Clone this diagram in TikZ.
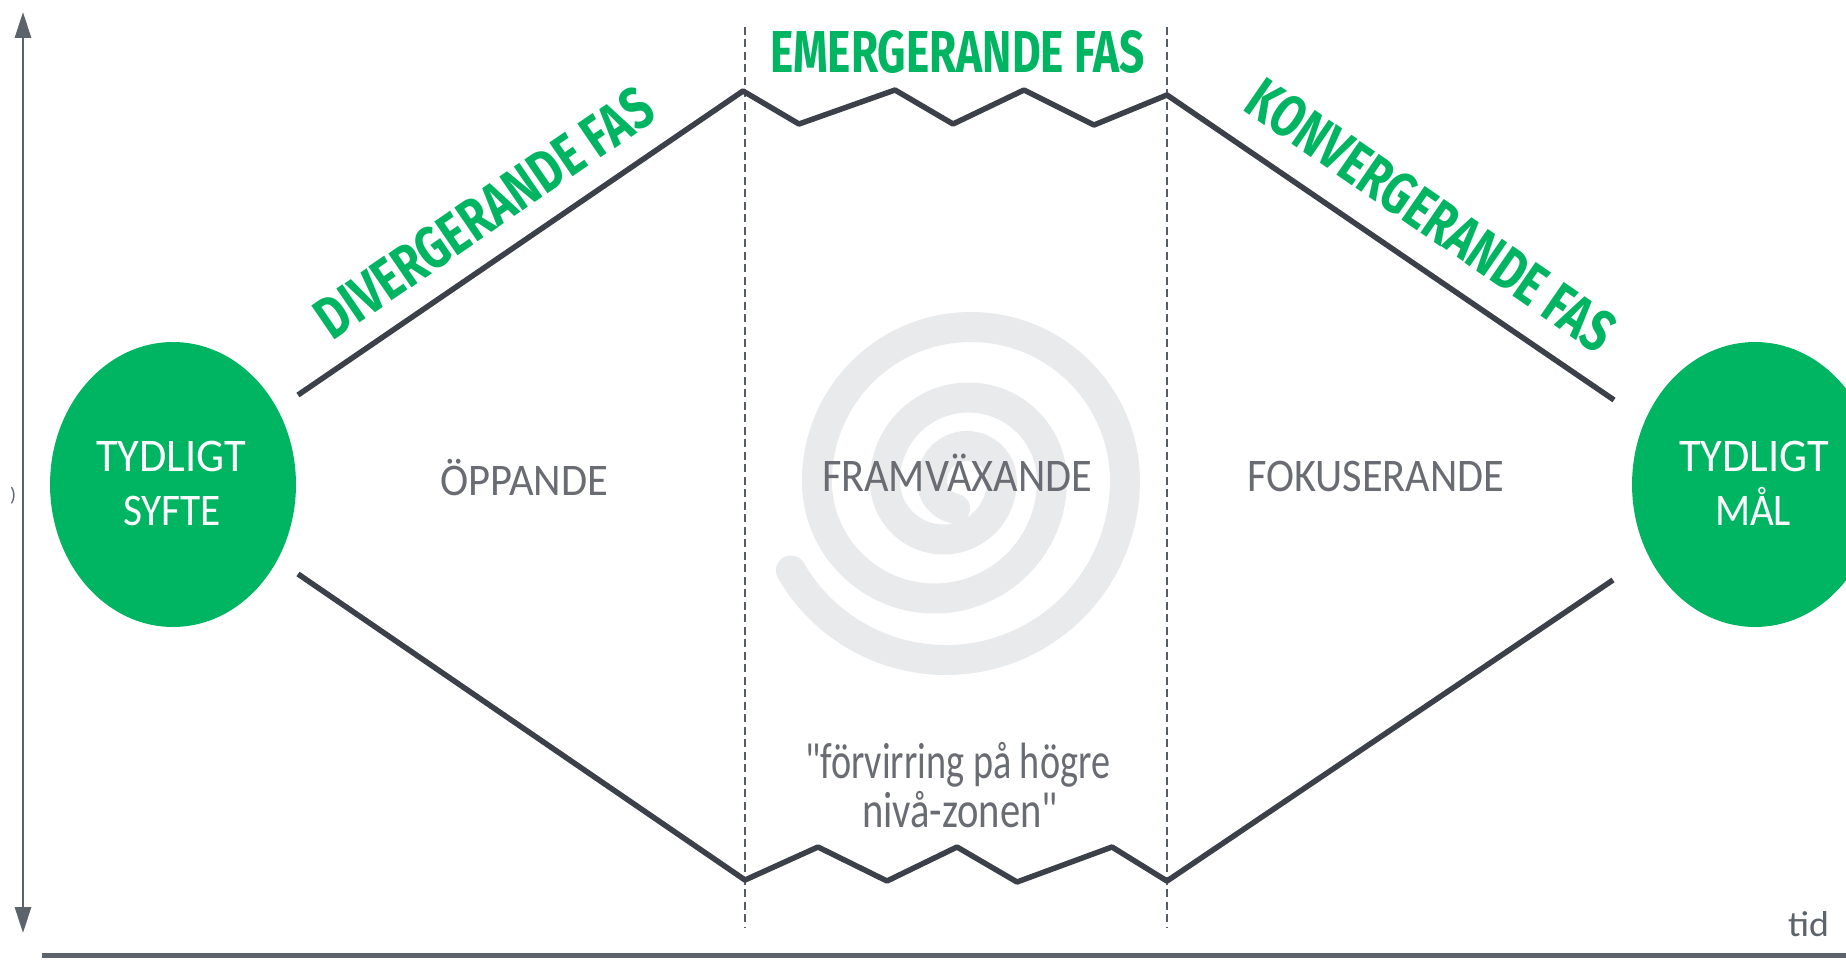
\documentclass[tikz,border=0pt]{standalone}
\usepackage{fontspec}
\usepackage{graphicx}
\setmainfont{Carlito}[Ligatures=TeXOff]
\newfontfamily\greenfont{Fira Sans}
\usetikzlibrary{arrows.meta,shapes.geometric}
\definecolor{fasgreen}{RGB}{0,181,98}
\definecolor{linegray}{RGB}{60,65,73}
\definecolor{axisgray}{RGB}{93,99,107}
\definecolor{dashgray}{RGB}{85,92,102}
\definecolor{labelgray}{RGB}{105,108,114}
\definecolor{spiralgray}{RGB}{233,234,236}
\newcommand{\fitcap}[3]{\resizebox{#1}{#2}{\smash{#3}\vphantom{T}}}
\newcommand{\fitasc}[3]{\resizebox{#1}{#2}{\smash{#3}\vphantom{f}}}
\begin{document}
\begin{tikzpicture}[x=0.02cm,y=-0.02cm,
  phase/.style={inner sep=0pt, text=labelgray},
  fas/.style={inner sep=0pt, text=fasgreen, font=\greenfont\bfseries},
  goal/.style={ellipse, fill=fasgreen, draw=none, minimum width=4.92cm, minimum height=5.7cm, inner sep=0pt},
  goaltext/.style={inner sep=0pt, text=white},
  pathline/.style={line width=0.11cm, draw=linegray, line join=round},
  phaseline/.style={draw=dashgray, line width=0.04cm, dash pattern=on 0.16cm off 0.09cm},
  axisline/.style={draw=axisgray, line width=0.06cm},
  spiralline/.style={draw=spiralgray, line width=0.6cm, line cap=round}
]
\clip (0,0) rectangle (1846,966);
\fill[white] (0,0) rectangle (1846,966);

% spiral in the background
\draw[spiralline] (790.9,570.5) arc[start angle=150,end angle=0,radius=179]
  arc[start angle=0,end angle=-180,radius=154]
  arc[start angle=180,end angle=0,radius=117.5]
  arc[start angle=0,end angle=-180,radius=83.5]
  arc[start angle=180,end angle=0,radius=58.5]
  arc[start angle=0,end angle=-180,radius=35]
  arc[start angle=180,end angle=100,radius=28];

% phase borders
\coordinate (d1top) at (745,27);
\coordinate (d1bot) at (745,928);
\coordinate (d2top) at (1167,27);
\coordinate (d2bot) at (1167,928);
\draw[phaseline] (d1top) -- (d1bot);
\draw[phaseline] (d2top) -- (d2bot);

% axes
\coordinate (ytop) at (23,12);
\coordinate (ybot) at (23,933);
\draw[axisline, {Triangle[length=0.52cm,width=0.32cm]}-{Triangle[length=0.52cm,width=0.32cm]}] (ybot) -- (ytop);
\coordinate (xl) at (42,955);
\coordinate (xr) at (1846,955);
\draw[draw=axisgray, line width=0.1cm] (xl) -- (xr);

% goals
\node[goal] (syfte) at (173,484.5) {};
\node[goal] (mal) at (1755,484.5) {};

% upper outline
\coordinate (u0) at (298,395);
\coordinate (u1) at (743,91);
\coordinate (u2) at (799,124);
\coordinate (u3) at (895,90);
\coordinate (u4) at (953,124);
\coordinate (u5) at (1024,90);
\coordinate (u6) at (1094,125);
\coordinate (u7) at (1167,95);
\coordinate (u8) at (1614,400);
\draw[pathline] (u0) -- (u1) -- (u2) -- (u3) -- (u4) -- (u5) -- (u6) -- (u7) -- (u8);

% lower outline
\coordinate (l0) at (298,574);
\coordinate (l1) at (745,880);
\coordinate (l2) at (818,847);
\coordinate (l3) at (887,881);
\coordinate (l4) at (957,847);
\coordinate (l5) at (1017,882);
\coordinate (l6) at (1112,847);
\coordinate (l7) at (1167,881);
\coordinate (l8) at (1613,580);
\draw[pathline] (l0) -- (l1) -- (l2) -- (l3) -- (l4) -- (l5) -- (l6) -- (l7) -- (l8);

% goal texts
\node[goaltext] (syfte1) at (171,457) {\fitcap{3.0cm}{0.6cm}{TYDLIGT}};
\node[goaltext] (syfte2) at (172,511) {\fitcap{1.96cm}{0.58cm}{SYFTE}};
\node[goaltext] (mal1) at (1754,457) {\fitcap{3.0cm}{0.6cm}{TYDLIGT}};
\node[goaltext] (mal2) at (1753,511) {\fitcap{1.52cm}{0.58cm}{MÅL}};

% phase texts
\node[phase] (oppande) at (524,481) {\fitcap{3.36cm}{0.58cm}{ÖPPANDE}};
\node[phase] (framv) at (957,477) {\fitcap{5.4cm}{0.6cm}{FRAMVÄXANDE}};
\node[phase] (fokus) at (1375.5,477) {\fitcap{5.14cm}{0.6cm}{FOKUSERANDE}};
\node[phase, anchor=base] (zon1) at (957.5,778) {\fitasc{6.1cm}{0.7cm}{"förvirring på högre}};
\node[phase, anchor=base] (zon2) at (960,827) {\fitasc{3.92cm}{0.7cm}{nivå-zonen"}};

% green phase headings
\node[fas] (emerg) at (957.5,52.5) {\fitcap{7.5cm}{0.82cm}{EMERGERANDE FAS}};
\node[fas, rotate=34.4] (diverg) at (484,213) {\fitcap{7.9cm}{0.82cm}{DIVERGERANDE FAS}};
\node[fas, rotate=-34.6] (konverg) at (1431,215) {\fitcap{8.64cm}{0.82cm}{KONVERGERANDE FAS}};

% axis texts
\node[inner sep=0pt, text=axisgray, anchor=base] (tid) at (1808.5,936) {\resizebox{0.82cm}{0.5cm}{tid}};
\node[inner sep=0pt, text=axisgray] (paren) at (13,496) {\resizebox*{0.12cm}{0.34cm}{)}};
\end{tikzpicture}
\end{document}
